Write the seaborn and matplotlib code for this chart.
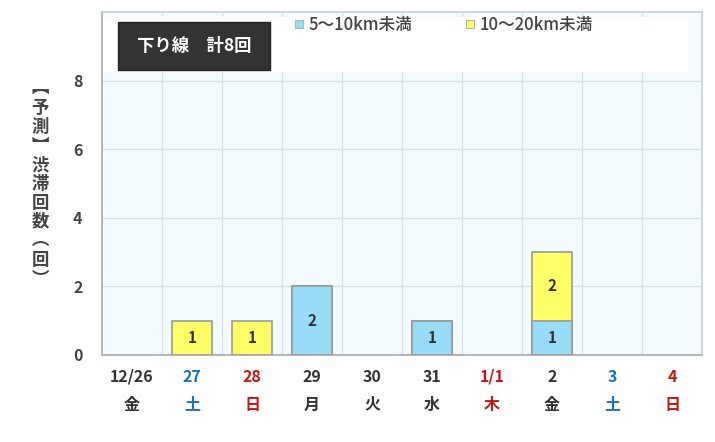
import matplotlib
matplotlib.use('Agg')
import matplotlib.pyplot as plt
from matplotlib.patches import Rectangle
import numpy as np
import pandas as pd
import seaborn as sns

# data
days = ['12/26', '27', '28', '29', '30', '31', '1/1', '2', '3', '4']
weekdays = ['金', '土', '日', '月', '火', '水', '木', '金', '土', '日']
label_colors = ['#333333', '#1a6fc0', '#cc1111', '#333333', '#333333',
                '#333333', '#cc1111', '#333333', '#1a6fc0', '#cc1111']
jam_5_10 = [0, 0, 0, 2, 0, 1, 0, 1, 0, 0]
jam_10_20 = [0, 1, 1, 0, 0, 0, 0, 2, 0, 0]
series_names = ['5～10km未満', '10～20km未満']
title_text = '下り線　計8回'
ylabel_text = '︻予測︼渋滞回数︵回︶'

blue = '#99dcf7'
yellow = '#ffff66'
edge = '#9a9a9a'

sns.set_style('white')
plt.rcParams['font.family'] = ['Noto Sans CJK JP', 'DejaVu Sans']

df = pd.DataFrame({'day': days, 'a': jam_5_10, 'b': jam_10_20})
df['total'] = df['a'] + df['b']
# empty days get no bar at all
df['total_bar'] = df['total'].replace(0, np.nan)
df['a_bar'] = df['a'].replace(0, np.nan)

fig = plt.figure(figsize=(7.15, 4.42), dpi=100)
ax = fig.add_axes([0.1427, 0.197, 0.8392, 0.776])
ax.set_facecolor('#f3fbfe')

# total height in yellow, then the blue part drawn over it
sns.barplot(data=df, x='day', y='total_bar', order=days, color=yellow,
            saturation=1, width=0.68, edgecolor=edge, linewidth=1.2,
            ax=ax, zorder=3)
sns.barplot(data=df, x='day', y='a_bar', order=days, color=blue,
            saturation=1, width=0.68, edgecolor=edge, linewidth=1.2,
            ax=ax, zorder=4)

# segment labels
for i, (a, b) in enumerate(zip(jam_5_10, jam_10_20)):
    if a > 0:
        ax.text(i, a / 2, str(a), ha='center', va='center', fontsize=11,
                fontweight='bold', color='#333333', zorder=5)
    if b > 0:
        ax.text(i, a + b / 2, str(b), ha='center', va='center', fontsize=11,
                fontweight='bold', color='#333333', zorder=5)

ax.set_xlim(-0.5, len(days) - 0.5)
ax.set_ylim(0, 10)
ax.set_yticks([0, 2, 4, 6, 8])
ax.set_xticks(range(len(days)))
ax.set_xticklabels([d + '\n' + w for d, w in zip(days, weekdays)],
                   linespacing=1.9)
for lab, c in zip(ax.get_xticklabels(), label_colors):
    lab.set_color(c)
ax.set_xticks([i + 0.5 for i in range(len(days) - 1)], minor=True)
ax.tick_params(axis='x', which='both', length=0, pad=10, labelsize=11.5)
ax.tick_params(axis='y', length=0, pad=14, labelsize=11.5, labelcolor='#444444')
for lab in ax.get_xticklabels() + ax.get_yticklabels():
    lab.set_fontweight('bold')

ax.grid(axis='y', which='major', color='#d6e2e6', linewidth=1, zorder=0)
ax.grid(axis='x', which='minor', color='#d6e2e6', linewidth=1, zorder=0)
ax.set_axisbelow(True)
ax.set_xlabel('')
ax.set_ylabel('')

for side in ['left', 'bottom']:
    ax.spines[side].set_color('#b8b8b8')
    ax.spines[side].set_linewidth(1.5)
for side in ['top', 'right']:
    ax.spines[side].set_color('#d0d0d0')
    ax.spines[side].set_linewidth(1.2)

# legend panel
ax.add_patch(Rectangle((0.002, 0.825), 0.975, 0.16, transform=ax.transAxes,
                       facecolor='white', edgecolor='none', zorder=6))
ax.add_patch(Rectangle((0.027, 0.831), 0.253, 0.14, transform=ax.transAxes,
                       facecolor='#333333', edgecolor='#222222', zorder=7))
ax.text(0.153, 0.901, title_text, transform=ax.transAxes, ha='center',
        va='center', color='white', fontsize=12.5, fontweight='bold', zorder=8)
for x0, c, name in [(0.328, blue, series_names[0]), (0.613, yellow, series_names[1])]:
    ax.add_patch(Rectangle((x0 - 0.007, 0.953), 0.014, 0.024,
                           transform=ax.transAxes, facecolor=c,
                           edgecolor='#aaaaaa', linewidth=0.6, zorder=8))
    ax.text(x0 + 0.016, 0.962, name, transform=ax.transAxes, ha='left',
            va='center', fontsize=12, fontweight='medium', color='#444444',
            zorder=8)

fig.text(0.056, 0.584, '\n'.join(ylabel_text), ha='center', va='center',
         fontsize=12.5, fontweight='bold', color='#444444', linespacing=1.07)

fig.savefig('out.png', dpi=100)
